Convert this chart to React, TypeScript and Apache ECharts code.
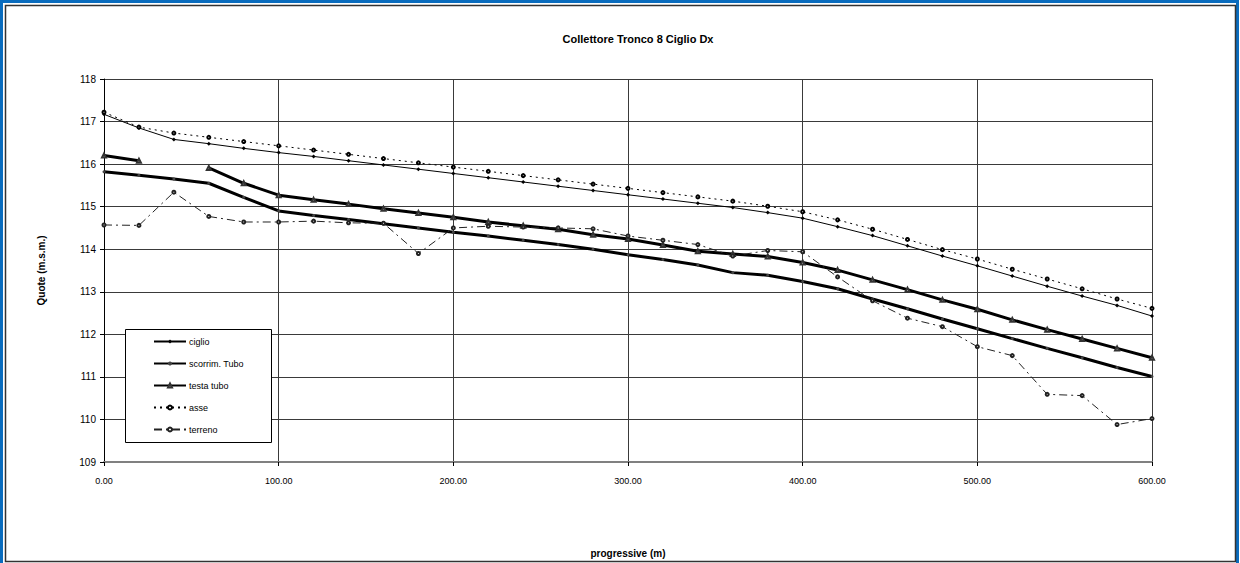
import React, { useEffect, useRef } from "react";
import * as echarts from "echarts";

const progressive = [0, 20, 40, 60, 80, 100, 120, 140, 160, 180, 200, 220, 240, 260, 280, 300, 320, 340, 360, 380, 400, 420, 440, 460, 480, 500, 520, 540, 560, 580, 600];

const ciglio = [117.17, 116.85, 116.58, 116.48, 116.37, 116.27, 116.18, 116.08, 115.98, 115.88, 115.78, 115.68, 115.58, 115.48, 115.38, 115.28, 115.18, 115.08, 114.98, 114.86, 114.73, 114.53, 114.32, 114.08, 113.84, 113.61, 113.37, 113.13, 112.9, 112.68, 112.43];

const scorrimTubo = [115.82, 115.74, 115.65, 115.55, 115.22, 114.9, 114.79, 114.7, 114.6, 114.5, 114.4, 114.31, 114.21, 114.11, 114.0, 113.87, 113.76, 113.63, 113.45, 113.39, 113.24, 113.07, 112.83, 112.6, 112.36, 112.13, 111.9, 111.67, 111.45, 111.22, 111.01];

const testaTubo: (number | null)[] = [116.2, 116.08, null, 115.91, 115.55, 115.27, 115.16, 115.06, 114.95, 114.85, 114.75, 114.64, 114.55, 114.47, 114.34, 114.24, 114.1, 113.95, 113.89, 113.83, 113.69, 113.51, 113.28, 113.05, 112.81, 112.59, 112.34, 112.11, 111.89, 111.67, 111.45];

const asse = [117.22, 116.87, 116.73, 116.63, 116.53, 116.43, 116.33, 116.23, 116.13, 116.03, 115.93, 115.83, 115.73, 115.63, 115.53, 115.43, 115.33, 115.23, 115.13, 115.01, 114.88, 114.69, 114.47, 114.23, 113.99, 113.77, 113.53, 113.3, 113.07, 112.83, 112.61];

const terreno = [114.57, 114.56, 115.34, 114.77, 114.64, 114.64, 114.66, 114.62, 114.61, 113.9, 114.5, 114.54, 114.52, 114.5, 114.48, 114.31, 114.21, 114.11, 113.84, 113.97, 113.94, 113.35, 112.79, 112.38, 112.18, 111.71, 111.5, 110.59, 110.56, 109.88, 110.02];

const seriesNames = ["ciglio", "scorrim. Tubo", "testa tubo", "asse", "terreno"];

const titleText = "Collettore Tronco 8 Ciglio Dx";
const xAxisTitle = "progressive (m)";
const yAxisTitle = "Quote (m.s.m.)";

const FONT = "'Liberation Sans', Arial, sans-serif";

const pair = (ys: (number | null)[]) => progressive.map((x, i) => [x, ys[i] === null ? "-" : ys[i]]);

export default function App() {
  const ref = useRef<HTMLDivElement>(null);

  useEffect(() => {
    document.body.style.margin = "0";
    if (!ref.current) return;
    const chart = echarts.init(ref.current, undefined, { renderer: "svg" });
    const gridCol = "#3a3a3a";
    chart.setOption({
      animation: false,
      backgroundColor: "#ffffff",
      textStyle: { fontFamily: FONT },
      title: {
        text: titleText,
        left: 633,
        top: 28,
        textAlign: "center",
        textStyle: { fontFamily: FONT, fontSize: 11, fontWeight: "bold", color: "#000" },
      },
      grid: { left: 104, right: 88, top: 79, bottom: 98 },
      xAxis: {
        type: "value",
        min: 0,
        max: 600,
        interval: 100,
        name: xAxisTitle,
        nameLocation: "middle",
        nameGap: 86,
        nameTextStyle: { fontFamily: FONT, fontSize: 10, fontWeight: "bold", color: "#000" },
        axisLine: { show: true, onZero: false, lineStyle: { color: "#808080", width: 2 } },
        axisTick: { show: true, length: 4, lineStyle: { color: "#000" } },
        axisLabel: {
          margin: 14,
          fontSize: 9,
          color: "#000",
          fontFamily: FONT,
          formatter: (v: number) => v.toFixed(2),
        },
        splitLine: { show: true, lineStyle: { color: gridCol, width: 1 } },
      },
      yAxis: {
        type: "value",
        min: 109,
        max: 118,
        interval: 1,
        name: yAxisTitle,
        nameLocation: "middle",
        nameGap: 58,
        nameRotate: 90,
        nameTextStyle: { fontFamily: FONT, fontSize: 10, fontWeight: "bold", color: "#000" },
        axisLine: { show: true, lineStyle: { color: "#000", width: 1 } },
        axisTick: { show: true, length: 4, lineStyle: { color: "#000" } },
        axisLabel: { margin: 8, fontSize: 10, color: "#000", fontFamily: FONT },
        splitLine: { show: true, lineStyle: { color: gridCol, width: 1 } },
      },
      legend: {
        orient: "vertical",
        left: 153,
        top: 336,
        itemWidth: 32,
        itemHeight: 5,
        itemGap: 11,
        padding: 0,
        textStyle: { fontFamily: FONT, fontSize: 9, color: "#000", padding: [0, 0, 0, -2], lineHeight: 11 },
        data: seriesNames,
      },
      graphic: [
        {
          type: "rect",
          z: 3,
          shape: { x: 125.5, y: 329.5, width: 146, height: 113 },
          style: { fill: "#fff", stroke: "#000", lineWidth: 1 },
        },
        {
          type: "rect",
          z: 10,
          silent: true,
          shape: { x: 1.5, y: 1.5, width: 1236, height: 575 },
          style: { fill: "none", stroke: "#0A6CBE", lineWidth: 3 },
        },
        {
          type: "rect",
          z: 10,
          silent: true,
          shape: { x: 5.5, y: 5.5, width: 1230, height: 556 },
          style: { fill: "none", stroke: "#333", lineWidth: 1.5 },
        },
      ],
      series: [
        {
          name: seriesNames[0],
          type: "line",
          data: pair(ciglio),
          symbol: "diamond",
          symbolSize: 4,
          itemStyle: { color: "#000", borderWidth: 0.5 },
          lineStyle: { color: "#000", width: 1 },
          z: 5,
        },
        {
          name: seriesNames[1],
          type: "line",
          data: pair(scorrimTubo),
          symbol: "circle",
          symbolSize: 3,
          itemStyle: { color: "#444", borderWidth: 0 },
          lineStyle: { color: "#000", width: 3 },
          z: 5,
        },
        {
          name: seriesNames[2],
          type: "line",
          data: pair(testaTubo),
          symbol: "emptyTriangle",
          symbolSize: 4,
          connectNulls: false,
          itemStyle: { color: "#333", borderColor: "#333", borderWidth: 1 },
          lineStyle: { color: "#000", width: 3 },
          z: 5,
        },
        {
          name: seriesNames[3],
          type: "line",
          data: pair(asse),
          symbol: "emptyCircle",
          symbolSize: 3,
          itemStyle: { color: "#000", borderWidth: 1 },
          lineStyle: { color: "#000", width: 1, type: [2, 4] },
          z: 5,
        },
        {
          name: seriesNames[4],
          type: "line",
          data: pair(terreno),
          symbol: "emptyCircle",
          symbolSize: 3,
          itemStyle: { color: "#222", borderWidth: 1 },
          lineStyle: { color: "#222", width: 1, type: [8, 4, 2, 4] },
          z: 5,
        },
      ],
    });
    return () => chart.dispose();
  }, []);

  return (
    <div
      ref={ref}
      style={{ position: "fixed", left: 0, top: 0, width: 1240, height: 563, background: "#fff" }}
    />
  );
}
